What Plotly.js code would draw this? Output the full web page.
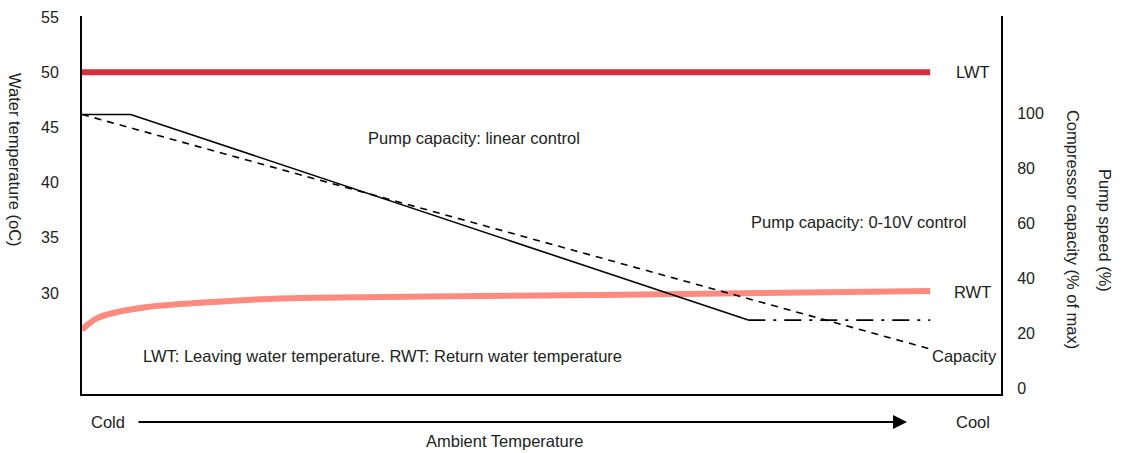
<!DOCTYPE html>
<html>
<head>
<meta charset="utf-8">
<script src="https://cdn.plot.ly/plotly-3.0.1.min.js"></script>
<style>html,body{margin:0;padding:0;background:#fff;}#chart{width:1121px;height:453px;}</style>
</head>
<body>
<div id="chart"></div>
<script>
// Ambient temperature position (0 = cold, 100 = right edge of plot)
const lwtX = [0, 92.3];
const lwtY = [50, 50];

const rwtX = [0, 0.65, 1.6, 3.4, 7.1, 10.7, 16.1, 21.5, 32.4, 56.4, 92.3];
const rwtY = [26.65, 27.15, 27.7, 28.19, 28.73, 29.0, 29.28, 29.5, 29.64, 29.82, 30.18];

// Pump capacity, linear control (solid) - right axis (%)
const linX = [0, 5.3, 72.5];
const linY = [99.5, 99.5, 24.7];
// Pump capacity continuation (dash-dot)
const flatX = [72.5, 92.3];
const flatY = [24.7, 24.7];
// Compressor capacity (dashed)
const capX = [0, 92.3];
const capY = [99.5, 14.2];

const leftTicks = [30, 35, 40, 45, 50, 55];
const rightTicks = [0, 20, 40, 60, 80, 100];

const FONT = 'Liberation Sans, Arial, sans-serif';
const TXT = '#222222';
const FS = 16.5;

const traces = [
  {x: lwtX, y: lwtY, mode: 'lines', line: {color: '#d32f3e', width: 6}, yaxis: 'y', hoverinfo: 'skip'},
  {x: rwtX, y: rwtY, mode: 'lines', line: {color: '#ff8a7f', width: 6, shape: 'spline', smoothing: 1}, yaxis: 'y', hoverinfo: 'skip'},
  {x: linX, y: linY, mode: 'lines', line: {color: '#000', width: 1.6}, yaxis: 'y2', hoverinfo: 'skip'},
  {x: flatX, y: flatY, mode: 'lines', line: {color: '#000', width: 1.6, dash: '17px,8px,3px,8px'}, yaxis: 'y2', hoverinfo: 'skip'},
  {x: capX, y: capY, mode: 'lines', line: {color: '#000', width: 1.6, dash: '7px,6px'}, yaxis: 'y2', hoverinfo: 'skip'}
];

function txt(text, x, y, extra) {
  return Object.assign({text: text, x: x, y: y, xref: 'x', yref: 'y', showarrow: false,
    font: {family: FONT, size: FS, color: TXT}, xanchor: 'center', yanchor: 'middle'}, extra || {});
}

const annotations = [
  txt('LWT', 96.95, 50),
  txt('RWT', 96.95, 30.1),
  txt('Capacity', 96.0, 24.3),
  txt('Pump capacity: linear control', 42.65, 44.04),
  txt('Pump capacity: 0-10V control', 84.6, 36.43),
  txt('LWT: Leaving water temperature. RWT: Return water temperature', 32.7, 24.3),
  txt('Cold', 2.88, -0.074, {yref: 'paper'}),
  txt('Cool', 97.0, -0.074, {yref: 'paper'}),
  txt('Ambient Temperature', 46.0, -0.1243, {yref: 'paper'}),
  {x: 89.77, y: -0.074, xref: 'x', yref: 'paper', text: '', showarrow: true,
   ax: -770, ay: 0, axref: 'pixel', ayref: 'pixel', arrowhead: 2, arrowsize: 1.4, arrowwidth: 2, arrowcolor: '#000', standoff: 0},
  txt('Water temperature (oC)', -0.0729, 0.619, {xref: 'paper', yref: 'paper', textangle: 90}),
  txt('Compressor capacity (% of max)', 1.0784, 0.4365, {xref: 'paper', yref: 'paper', textangle: 90}),
  txt('Pump speed (%)', 1.1132, 0.434, {xref: 'paper', yref: 'paper', textangle: 90})
];

const layout = {
  width: 1121, height: 453,
  margin: {l: 82, r: 120, t: 16, b: 59, pad: 0},
  paper_bgcolor: '#fff', plot_bgcolor: '#fff',
  showlegend: false,
  font: {family: FONT, size: 16, color: TXT},
  xaxis: {range: [0, 100], showline: true, linecolor: '#000', linewidth: 2,
          showticklabels: false, ticks: '', showgrid: false, zeroline: false, fixedrange: true},
  yaxis: {range: [20.85, 55.09], tickvals: leftTicks, ticktext: leftTicks.map(String),
          showline: true, linecolor: '#000', linewidth: 2, ticks: '', showgrid: false, zeroline: false,
          ticklabelstandoff: 18, tickfont: {family: FONT, size: 16, color: TXT}},
  yaxis2: {range: [-2.18, 135.3], overlaying: 'y', side: 'right', tickvals: rightTicks, ticktext: rightTicks.map(String),
           showline: true, linecolor: '#000', linewidth: 2, ticks: '', showgrid: false, zeroline: false,
           ticklabelstandoff: 11, tickfont: {family: FONT, size: 16, color: TXT}},
  annotations: annotations
};

Plotly.newPlot('chart', traces, layout, {staticPlot: true, displayModeBar: false});
</script>
</body>
</html>
